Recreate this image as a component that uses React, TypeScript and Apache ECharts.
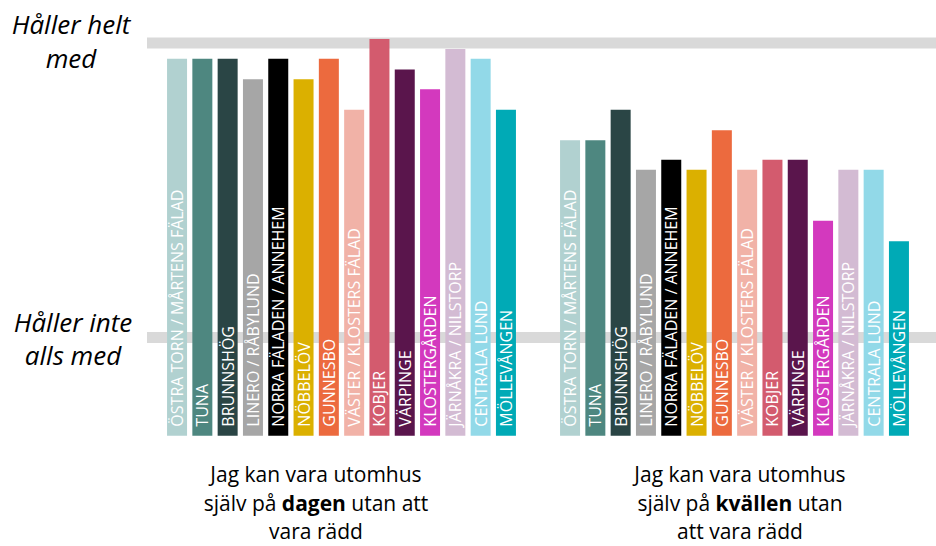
import React, { useEffect, useRef } from "react";
import * as echarts from "echarts";

// Areas (one bar series each)
const areas = [
  "ÖSTRA TORN / MÅRTENS FÄLAD",
  "TUNA",
  "BRUNNSHÖG",
  "LINERO / RÅBYLUND",
  "NORRA FÄLADEN / ANNEHEM",
  "NÖBBELÖV",
  "GUNNESBO",
  "VÄSTER / KLOSTERS FÄLAD",
  "KOBJER",
  "VÄRPINGE",
  "KLOSTERGÅRDEN",
  "JÄRNÅKRA / NILSTORP",
  "CENTRALA LUND",
  "MÖLLEVÅNGEN",
];

const areaColors = [
  "#b1d1d0",
  "#4e8780",
  "#2a4545",
  "#a6a6a6",
  "#000000",
  "#dbb000",
  "#ec6a3e",
  "#f1b2a7",
  "#d35b6e",
  "#5a154c",
  "#d339be",
  "#d3bbd3",
  "#92d9e8",
  "#00aab6",
];

// Questions (categories)
const questions = ["dagen", "kvällen"];

// Mean agreement (1 = Håller inte alls med, 4 = Håller helt med)
const dagenValues = [3.84, 3.84, 3.84, 3.63, 3.84, 3.63, 3.84, 3.32, 4.04, 3.73, 3.53, 3.94, 3.84, 3.32];
const kvallenValues = [3.01, 3.01, 3.32, 2.71, 2.81, 2.71, 3.11, 2.71, 2.81, 2.81, 2.19, 2.71, 2.71, 1.98];

// Scale reference lines
const scaleLabels = ["Håller helt\nmed", "Håller inte\nalls med"];
const scaleValues = [4, 1];

// Question texts under each group
const questionTexts = [
  "Jag kan vara utomhus\nsjälv på {b|dagen} utan att\nvara rädd",
  "Jag kan vara utomhus\nsjälv på {b|kvällen} utan\natt vara rädd",
];

const FONT = "'Open Sans', 'Noto Sans', sans-serif";
const Y_MIN = -0.075;
const Y_MAX = 4.102;

export default function App() {
  const ref = useRef<HTMLDivElement>(null);

  useEffect(() => {
    if (!ref.current) return;
    const chart = echarts.init(ref.current, undefined, { renderer: "svg" });

    const barSeries = areas.map((name, i) => ({
      type: "bar",
      name,
      xAxisIndex: 0,
      yAxisIndex: 0,
      data: [dagenValues[i], kvallenValues[i]],
      barWidth: 20,
      barGap: "26.5%",
      z: 3,
      itemStyle: { color: areaColors[i] },
      label: {
        show: true,
        position: "insideBottom",
        rotate: 90,
        align: "left",
        verticalAlign: "middle",
        distance: 9,
        color: "#ffffff",
        fontSize: 16,
        fontFamily: FONT,
        formatter: "{a}",
      },
      silent: true,
    }));

    const lineSeries = scaleValues.map((v, i) => ({
      type: "line",
      name: scaleLabels[i],
      xAxisIndex: 1,
      yAxisIndex: 1,
      data: [
        [0, v],
        [1, v],
      ],
      symbol: "none",
      z: 1,
      silent: true,
      lineStyle: { color: "#d9d9d9", width: 11, cap: "butt" },
    }));

    chart.setOption({
      animation: false,
      backgroundColor: "#ffffff",
      grid: [
        { left: 145, right: 5, top: 33, bottom: 103 },
        { left: 147, right: 0, top: 33, bottom: 103 },
      ],
      xAxis: [
        { type: "category", gridIndex: 0, data: questions, show: false },
        { type: "value", gridIndex: 1, min: 0, max: 1, show: false },
      ],
      yAxis: [
        { type: "value", gridIndex: 0, min: Y_MIN, max: Y_MAX, show: false, splitLine: { show: false } },
        { type: "value", gridIndex: 1, min: Y_MIN, max: Y_MAX, show: false, splitLine: { show: false } },
      ],
      series: [...lineSeries, ...barSeries],
      graphic: [
        {
          type: "text",
          x: 71,
          y: 7,
          style: {
            text: scaleLabels[0],
            fontSize: 26,
            fontStyle: "italic",
            fontFamily: FONT,
            lineHeight: 34,
            align: "center",
            verticalAlign: "top",
            fill: "#000000",
          },
        },
        {
          type: "text",
          x: 73,
          y: 305,
          style: {
            text: scaleLabels[1],
            fontSize: 26,
            fontStyle: "italic",
            fontFamily: FONT,
            lineHeight: 33,
            align: "center",
            verticalAlign: "top",
            fill: "#000000",
          },
        },
        ...questionTexts.map((t, i) => ({
          type: "text",
          x: i === 0 ? 316 : 740,
          y: 460,
          style: {
            text: t,
            fontSize: 21,
            fontFamily: FONT,
            lineHeight: 28.5,
            align: "center",
            verticalAlign: "top",
            fill: "#000000",
            rich: {
              b: { fontSize: 21, fontFamily: FONT, fontWeight: "bold", lineHeight: 28.5, fill: "#000000" },
            },
          },
        })),
      ],
    });

    return () => chart.dispose();
  }, []);

  return (
    <div
      ref={ref}
      style={{ position: "fixed", left: 0, top: 0, width: 936, height: 546 }}
    />
  );
}
